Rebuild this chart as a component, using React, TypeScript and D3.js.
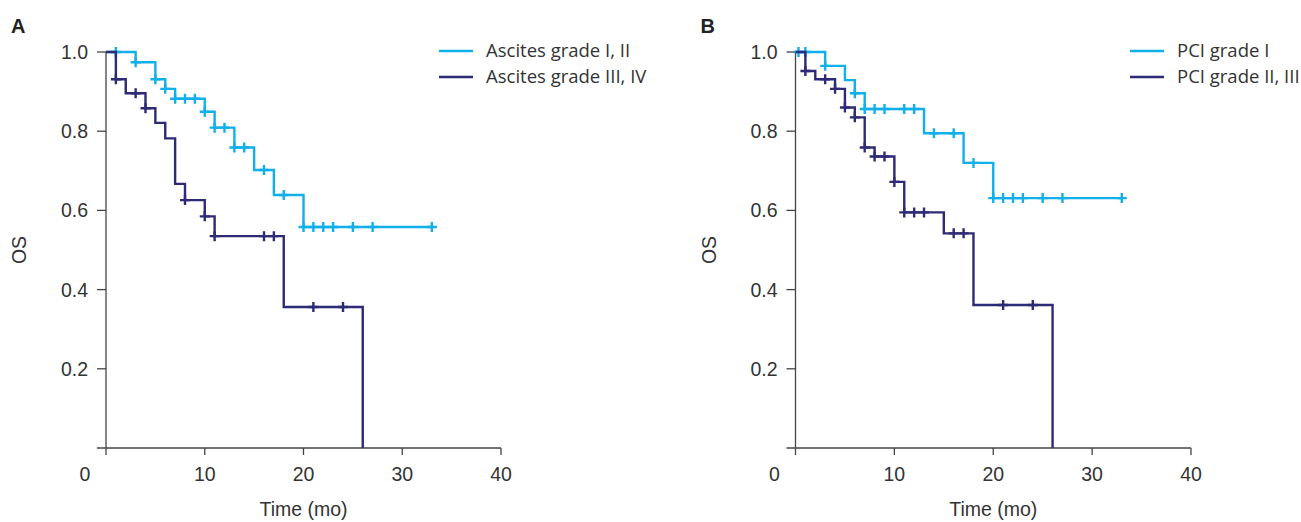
import React, { useRef, useEffect } from 'react';
import * as d3 from 'd3';

// Panel A: ascites grade
const aLowDrops: [number, number][] = [[3, 0.974], [5, 0.931], [6, 0.907], [7, 0.882], [10, 0.849], [11, 0.809], [13, 0.759], [15, 0.702], [17, 0.639], [20, 0.558]];
const aLowCensor = [1, 3, 5, 6, 7, 8, 9, 10, 11, 12, 13, 14, 16, 18, 20, 21, 22, 23, 25, 27, 33];
const aHighDrops: [number, number][] = [[1, 0.931], [2, 0.896], [4, 0.858], [5, 0.821], [6, 0.782], [7, 0.667], [8, 0.626], [10, 0.585], [11, 0.535], [18, 0.356], [26, 0]];
const aHighCensor = [1, 3, 4, 8, 10, 11, 16, 17, 21, 24];

// Panel B: PCI grade
const bLowDrops: [number, number][] = [[3, 0.965], [5, 0.929], [6, 0.896], [7, 0.856], [13, 0.795], [17, 0.72], [20, 0.631]];
const bLowCensor = [0.3, 1, 3, 6, 7, 8, 9, 11, 12, 14, 16, 18, 20, 21, 22, 23, 25, 27, 33];
const bHighDrops: [number, number][] = [[1, 0.952], [2, 0.931], [4, 0.907], [5, 0.86], [6, 0.835], [7, 0.759], [8, 0.736], [10, 0.672], [11, 0.595], [15, 0.542], [18, 0.361], [26, 0]];
const bHighCensor = [1, 3, 4, 5, 6, 7, 8, 9, 10, 11, 12, 13, 16, 17, 21, 24];

const yTicks = [0.2, 0.4, 0.6, 0.8, 1.0];
const xTicks = [10, 20, 30, 40];
const legendA = ['Ascites grade I, II', 'Ascites grade III, IV'];
const legendB = ['PCI grade I', 'PCI grade II, III'];

const LIGHT = '#12b0ea';
const DARK = '#2e2b76';
const AXIS = '#444';
const TXT = '#333';
const TICK_FONT = '"Liberation Sans", Arial, sans-serif';
const LEG_FONT = '"Open Sans", sans-serif';

const App = () => {
  const svgRef = useRef<SVGSVGElement | null>(null);

  useEffect(() => {
    if (!svgRef.current) return;
    const root = d3.select(svgRef.current);
    root.selectAll('*').remove();

    const panels = [
      { letter: 'A', x0: 106, x1: 501, curves: [[aLowDrops, aLowCensor, LIGHT], [aHighDrops, aHighCensor, DARK]], legend: legendA, legX: 439 },
      { letter: 'B', x0: 795.5, x1: 1191, curves: [[bLowDrops, bLowCensor, LIGHT], [bHighDrops, bHighCensor, DARK]], legend: legendB, legX: 1130 },
    ];

    panels.forEach((p) => {
      const x = d3.scaleLinear().domain([0, 40]).range([p.x0, p.x1]);
      const y = d3.scaleLinear().domain([0, 1]).range([448, 52]);
      const g = root.append('g');

      // panel letter
      g.append('text')
        .attr('x', p.x0 - 95)
        .attr('y', 33)
        .attr('font-family', TICK_FONT)
        .attr('font-weight', 'bold')
        .attr('font-size', 20)
        .attr('fill', '#222')
        .text(p.letter);

      // axes lines
      g.append('line')
        .attr('x1', x(0)).attr('x2', x(0))
        .attr('y1', y(1)).attr('y2', y(0) + 7)
        .attr('stroke', AXIS).attr('stroke-width', 1.3);
      g.append('line')
        .attr('x1', x(0) - 9).attr('x2', x(40))
        .attr('y1', y(0)).attr('y2', y(0))
        .attr('stroke', AXIS).attr('stroke-width', 1.3);

      yTicks.forEach((t) => {
        g.append('line')
          .attr('x1', x(0) - 9).attr('x2', x(0))
          .attr('y1', y(t)).attr('y2', y(t))
          .attr('stroke', AXIS).attr('stroke-width', 1.3);
        g.append('text')
          .attr('x', x(0) - 18)
          .attr('y', y(t))
          .attr('dy', '0.36em')
          .attr('text-anchor', 'end')
          .attr('font-family', TICK_FONT)
          .attr('font-size', 19.5)
          .attr('fill', TXT)
          .text(d3.format('.1f')(t));
      });

      xTicks.forEach((t) => {
        g.append('line')
          .attr('x1', x(t)).attr('x2', x(t))
          .attr('y1', y(0)).attr('y2', y(0) + 7)
          .attr('stroke', AXIS).attr('stroke-width', 1.3);
        g.append('text')
          .attr('x', x(t))
          .attr('y', 481)
          .attr('text-anchor', 'middle')
          .attr('font-family', TICK_FONT)
          .attr('font-size', 19.5)
          .attr('fill', TXT)
          .text(t);
      });
      g.append('text')
        .attr('x', x(0) - 21)
        .attr('y', 481)
        .attr('text-anchor', 'middle')
        .attr('font-family', TICK_FONT)
        .attr('font-size', 19.5)
        .attr('fill', TXT)
        .text('0');

      // axis titles
      g.append('text')
        .attr('x', (x(0) + x(40)) / 2)
        .attr('y', 516)
        .attr('text-anchor', 'middle')
        .attr('font-family', TICK_FONT)
        .attr('font-size', 19.5)
        .attr('fill', TXT)
        .text('Time (mo)');
      g.append('text')
        .attr('transform', `translate(${x(0) - 87},${(y(0) + y(1)) / 2}) rotate(-90)`)
        .attr('dy', '0.36em')
        .attr('text-anchor', 'middle')
        .attr('font-family', TICK_FONT)
        .attr('font-size', 19.5)
        .attr('fill', TXT)
        .text('OS');

      // curves
      p.curves.forEach(([drops, censor, color]: any) => {
        const last = Math.max(drops[drops.length - 1][0], d3.max(censor as number[]) as number);
        const pts: [number, number][] = [[0, 1], ...drops];
        if (drops[drops.length - 1][1] > 0) pts.push([last, drops[drops.length - 1][1]]);
        const line = d3.line<[number, number]>()
          .x((d) => x(d[0]))
          .y((d) => y(d[1]))
          .curve(d3.curveStepAfter);
        g.append('path')
          .attr('d', line(pts))
          .attr('fill', 'none')
          .attr('stroke', color)
          .attr('stroke-width', 2.4);

        const survAt = (t: number) => {
          let s = 1;
          drops.forEach((d: [number, number]) => { if (d[0] <= t) s = d[1]; });
          return s;
        };
        (censor as number[]).forEach((t) => {
          const cx = x(t);
          const cy = y(survAt(t));
          g.append('path')
            .attr('d', `M${cx - 5},${cy}H${cx + 5}M${cx},${cy - 5}V${cy + 5}`)
            .attr('stroke', color)
            .attr('stroke-width', 2.4)
            .attr('fill', 'none');
        });
      });

      // legend
      p.legend.forEach((label, i) => {
        const ly = 51 + i * 26;
        g.append('line')
          .attr('x1', p.legX).attr('x2', p.legX + 34)
          .attr('y1', ly).attr('y2', ly)
          .attr('stroke', i === 0 ? LIGHT : DARK)
          .attr('stroke-width', 2.4);
        g.append('text')
          .attr('x', p.legX + 47)
          .attr('y', ly)
          .attr('dy', '0.35em')
          .attr('font-family', LEG_FONT)
          .attr('font-size', 18.5)
          .attr('fill', TXT)
          .text(label);
      });
    });
  }, []);

  return (
    <svg
      ref={svgRef}
      width={1301}
      height={522}
      style={{ position: 'absolute', left: 0, top: 0, background: '#fff' }}
    />
  );
};

export default App;
